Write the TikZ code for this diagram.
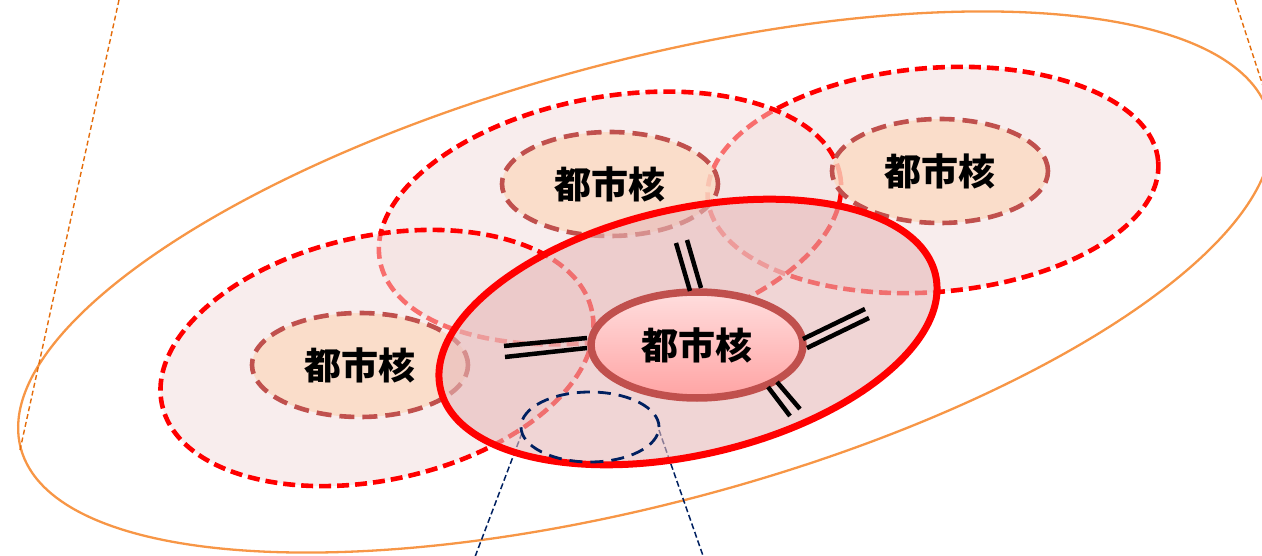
\documentclass[tikz,border=0pt]{standalone}
\usepackage{fontspec}
\newfontfamily\cjk{Noto Sans CJK JP}
\usetikzlibrary{shapes.geometric}
\definecolor{orangeln}{HTML}{F79646}
\definecolor{coneln}{HTML}{E46C0A}
\definecolor{zonefill}{HTML}{F2DCDB}
\definecolor{corefill}{HTML}{FAD9C2}
\definecolor{coreedge}{HTML}{C0504D}
\definecolor{mainfill}{HTML}{E6B9B9}
\definecolor{navyln}{HTML}{002060}
\definecolor{nucltop}{HTML}{FFDEDE}
\definecolor{nuclbot}{HTML}{FFA3A3}
\begin{document}
\begin{tikzpicture}[x=1pt,y=-1pt,
  region/.style={ellipse, draw=orangeln, line width=2.3pt, inner sep=0pt},
  conelink/.style={draw=coneln, line width=1.4pt, dash pattern=on 5pt off 3pt},
  zoomlink/.style={draw=navyln, line width=1.5pt, dash pattern=on 6pt off 3pt},
  zone/.style={ellipse, draw=red, line width=4.6pt, dash pattern=on 12pt off 6pt,
    fill=zonefill, fill opacity=0.5, draw opacity=1, inner sep=0pt},
  subcore/.style={ellipse, draw=coreedge, line width=4.6pt, dash pattern=on 15pt off 8pt,
    fill=corefill, fill opacity=0.8, draw opacity=1, text opacity=1, inner sep=0pt,
    minimum width=216pt, minimum height=104pt,
    font=\cjk\bfseries\fontsize{37}{37}\selectfont},
  mainzone/.style={ellipse, draw=red, line width=7pt, fill=mainfill,
    fill opacity=0.6, draw opacity=1, inner sep=0pt},
  maincore/.style={ellipse, draw=coreedge, line width=7.5pt, top color=nucltop,
    bottom color=nuclbot, inner sep=0pt, minimum width=212pt, minimum height=106pt,
    font=\cjk\bfseries\fontsize{37}{37}\selectfont},
  linkbar/.style={draw=black, line width=4.5pt},
  focus/.style={ellipse, draw=navyln, line width=2.8pt, dash pattern=on 13pt off 8pt,
    inner sep=0pt}
]
\useasboundingbox (0,0) rectangle (1262,556);

% outer region
\node[region, minimum width=1292pt, minimum height=442pt, rotate=14.9] (reg) at (645,282) {};
\coordinate (cA1) at (119,0);
\coordinate (cA2) at (20,450);
\coordinate (cB1) at (1235,0);
\coordinate (cB2) at (1276,126);
\draw[conelink] (cA1) -- (cA2);
\draw[conelink] (cB1) -- (cB2);

% zoom lines
\coordinate (zL1) at (522,433);
\coordinate (zL2) at (470,570);
\coordinate (zR1) at (659,430);
\coordinate (zR2) at (708,570);
\draw[zoomlink] (zL1) -- (zL2);
\draw[zoomlink] (zR1) -- (zR2);

% zones
\node[zone, minimum width=452pt, minimum height=224pt, rotate=4.7] (zoneR) at (933,180) {};
\node[zone, minimum width=468pt, minimum height=242pt, rotate=10.5] (zoneT) at (610,218) {};
\node[subcore] (coreT) at (610,184) {都市核};
\node[subcore] (coreR) at (940,171) {都市核};
\node[zone, minimum width=440pt, minimum height=244pt, rotate=12.3] (zoneL) at (377,358) {};
\node[subcore] (coreL) at (360,365) {都市核};

% main zone
\node[mainzone, minimum width=508pt, minimum height=246pt, rotate=13] (zoneM) at (688,332) {};
\node[maincore] (coreM) at (697,345) {都市核};

% link bars
\coordinate (a1) at (504,346); \coordinate (a2) at (587,338);
\coordinate (a3) at (505,357); \coordinate (a4) at (587,348);
\coordinate (b1) at (676,243); \coordinate (b2) at (690,291);
\coordinate (b3) at (687,240); \coordinate (b4) at (701,288);
\coordinate (c1) at (803,339); \coordinate (c2) at (865,309);
\coordinate (c3) at (807,348); \coordinate (c4) at (869,318);
\coordinate (d1) at (768,387); \coordinate (d2) at (790,416);
\coordinate (d3) at (777,382); \coordinate (d4) at (800,409);
\draw[linkbar] (a1) -- (a2); \draw[linkbar] (a3) -- (a4);
\draw[linkbar] (b1) -- (b2); \draw[linkbar] (b3) -- (b4);
\draw[linkbar] (c1) -- (c2); \draw[linkbar] (c3) -- (c4);
\draw[linkbar] (d1) -- (d2); \draw[linkbar] (d3) -- (d4);

% focus ellipse
\node[focus, minimum width=138pt, minimum height=70pt] (foc) at (590,427) {};
\end{tikzpicture}
\end{document}
